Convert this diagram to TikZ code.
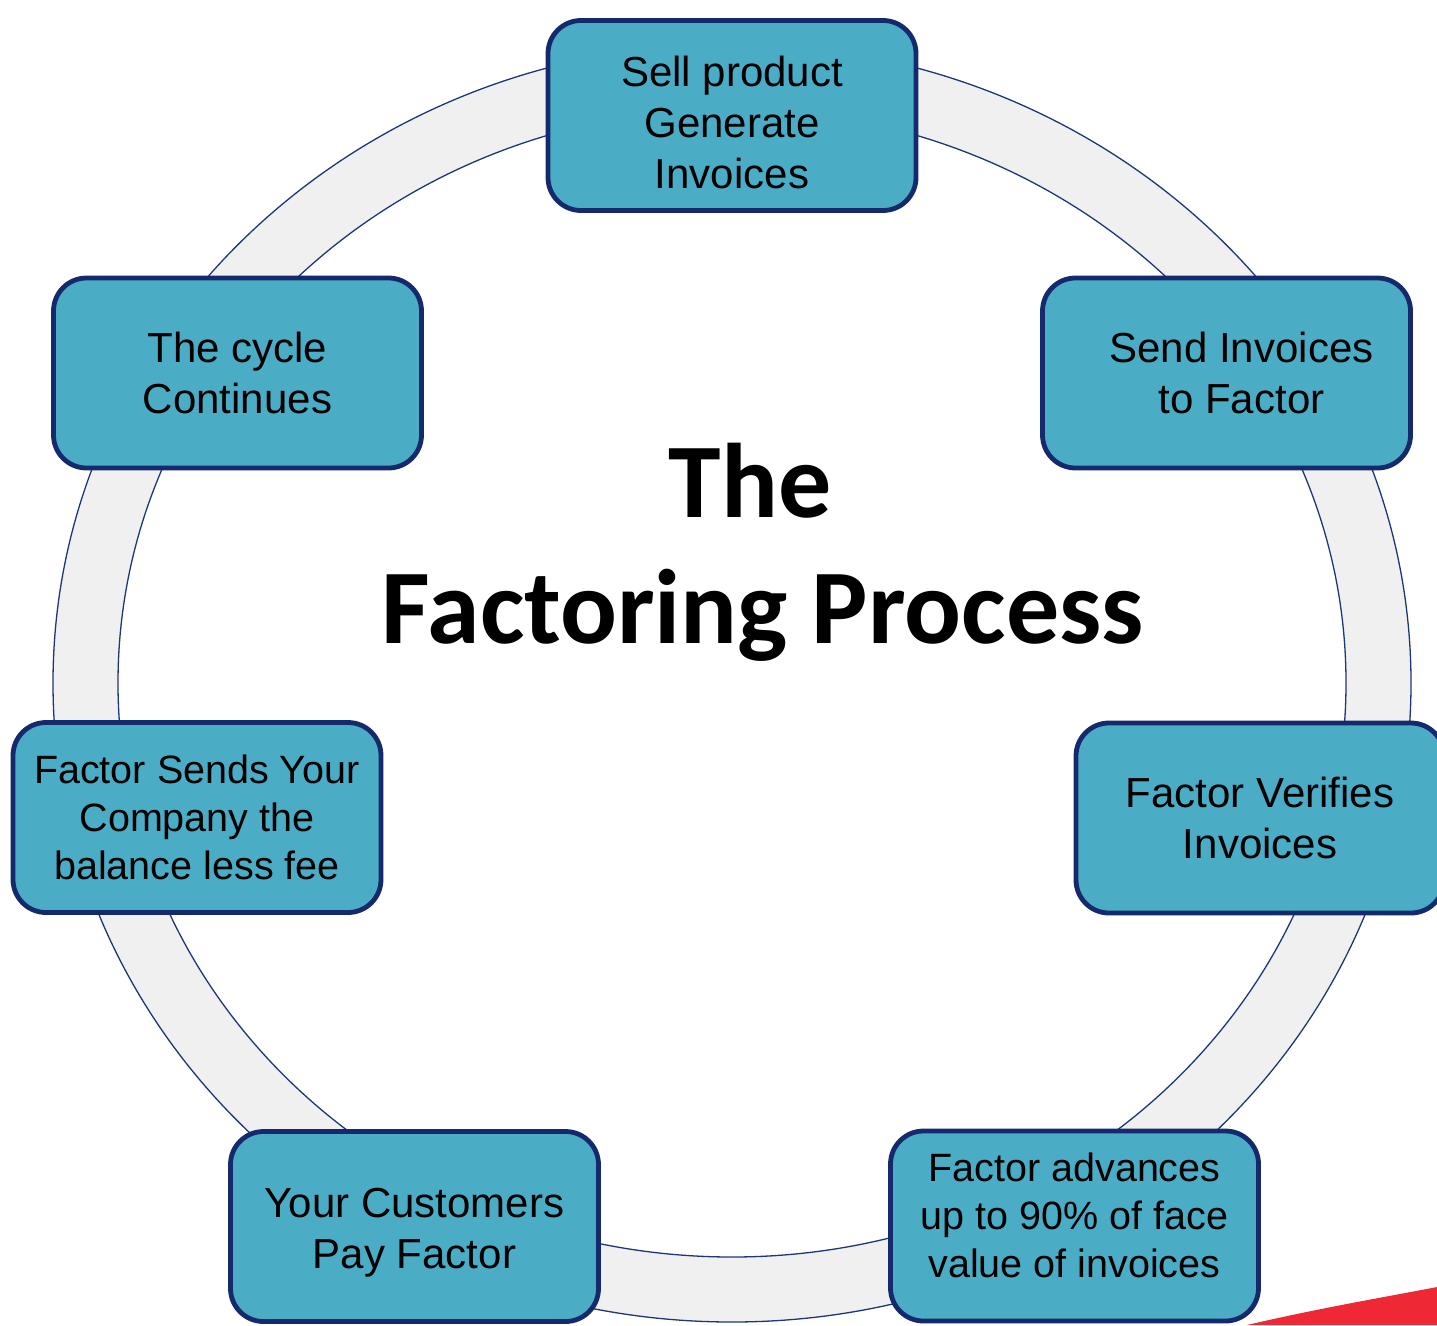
\documentclass[tikz,border=0pt]{standalone}
\usepackage{fontspec}
\usepackage{tikz}
\usetikzlibrary{calc}
\setmainfont{Liberation Sans}
\newfontfamily\titlefont{Carlito}
\definecolor{box-fill}{RGB}{75,172,198}
\definecolor{box-line}{RGB}{20,42,108}
\definecolor{ring-fill}{RGB}{240,240,240}
\definecolor{ring-line}{RGB}{30,55,120}
\definecolor{red-corner}{RGB}{238,40,52}

\begin{document}
\begin{tikzpicture}[x=1pt, y=-1pt,
  stepbox/.style={draw=box-line, line width=4.8pt, fill=box-fill, rounded corners=33pt,
    minimum width=368pt, minimum height=190pt, align=center, inner sep=0pt,
    font=\fontsize{42pt}{51pt}\selectfont},
  steptext/.style={align=center, inner sep=0pt, font=\fontsize{42pt}{51pt}\selectfont},
  steptextsmall/.style={steptext, font=\fontsize{39.5pt}{48pt}\selectfont},
  titletext/.style={anchor=base, inner sep=0pt, font=\titlefont\bfseries\fontsize{106pt}{127pt}\selectfont}]

\useasboundingbox (0,0) rectangle (1437,1325);

% ring behind the steps
\coordinate (c) at (732,683);
\fill [ring-fill, even odd rule] (c) ellipse [x radius=679pt, y radius=639pt]
                                 (c) ellipse [x radius=614pt, y radius=574pt];
\draw [ring-line, line width=1.3pt] (c) ellipse [x radius=679pt, y radius=639pt];
\draw [ring-line, line width=1.3pt] (c) ellipse [x radius=614pt, y radius=574pt];

% red corner
\fill [red-corner] (1247,1325) .. controls (1320,1308) and (1380,1298) .. (1437,1287) -- (1437,1325) -- cycle;

\node [stepbox] (sell) at (732,115.5) {};
\node [steptext] (sell text) at ([yshift=-7pt]sell.center) {Sell product\\Generate\\Invoices};

\node [stepbox] (send) at (1226.5,373) {\hspace*{30pt}Send Invoices\\\hspace*{30pt}to Factor};
\node [stepbox] (verify) at (1260,818) {Factor Verifies\\Invoices};

\node [stepbox] (advance) at (1074.5,1226) {};
\node [steptextsmall] (advance text) at ([yshift=11pt]advance.center) {Factor advances\\up to 90\% of face\\value of invoices};

\node [stepbox] (customers) at (414.5,1226.5) {};
\node [steptext] (customers text) at ([yshift=-6pt]customers.center) {Your Customers\\Pay Factor};

\node [stepbox, font=\fontsize{39.5pt}{48pt}\selectfont] (balance) at (197,817.5) {Factor Sends Your\\Company the\\balance less fee};
\node [stepbox] (cycle) at (237.5,373) {The cycle\\Continues};

% title in the middle
\node [titletext] (title1) at (750,517) {The};
\node [titletext] (title2) at (763,643) {Factoring Process};

\end{tikzpicture}
\end{document}
